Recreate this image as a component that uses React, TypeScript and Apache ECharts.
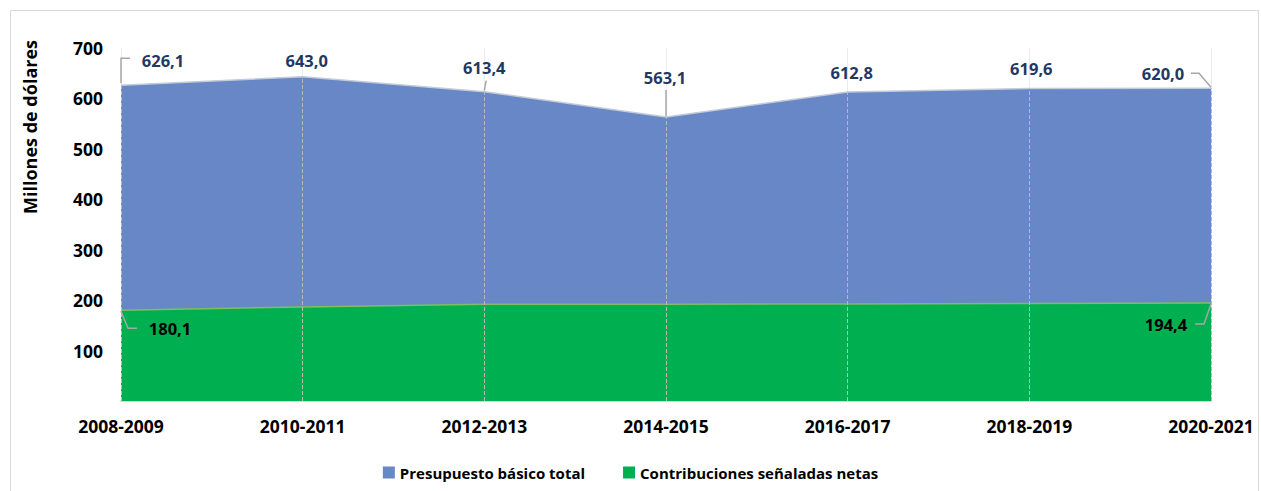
import React, { useEffect, useRef } from "react";
import * as echarts from "echarts";

const categories = ["2008-2009", "2010-2011", "2012-2013", "2014-2015", "2016-2017", "2018-2019", "2020-2021"];
const totalBudget = [626.1, 643.0, 613.4, 563.1, 612.8, 619.6, 620.0];
const contributions = [180.1, 186.5, 192.0, 192.0, 192.5, 193.5, 194.4];
const yTicks = { min: 0, max: 700, interval: 100 };

const seriesNames = ["Presupuesto básico total", "Contribuciones señaladas netas"];

const fmt = (v: number) => v.toFixed(1).replace(".", ",");

// label centre offsets (pixels) from each data point
const totalLabelOffset: [number, number][] = [
  [42, -25],
  [4, -16],
  [0, -24],
  [-1, -40],
  [4, -19],
  [2, -20],
  [-48, -15],
];
const contribLabelOffset: Record<number, [number, number]> = {
  0: [49, 18],
  6: [-45, 22],
};

// leader line shapes (pixel offsets from the data point), keyed by "series-index"
const leaderShapes: Record<string, number[][]> = {
  "t-0": [[0, -2], [0, -27], [9, -27]],
  "t-2": [[0, -1], [1, -7], [2, -11]],
  "t-3": [[0, -1], [0, -27]],
  "t-6": [[0, -1], [-12, -15], [-20, -15]],
  "c-0": [[0, 1], [7, 18], [16, 18]],
  "c-6": [[0, 1], [-7, 21], [-16, 21]],
};
const leaderPoints = [
  ["t", 0], ["t", 2], ["t", 3], ["t", 6], ["c", 0], ["c", 6],
] as const;

export default function App() {
  const ref = useRef<HTMLDivElement>(null);
  useEffect(() => {
    if (!ref.current) return;
    const chart = echarts.init(ref.current, undefined, { renderer: "svg" });
    const font = "'Open Sans', 'Noto Sans', sans-serif";
    const anchor = (p: any) => [p.rect.x + p.rect.width / 2, p.rect.y + p.rect.height / 2];
    const leaderData = leaderPoints.map(([s, i]) => [
      i,
      s === "t" ? totalBudget[i] : contributions[i],
      s === "t" ? 0 : 1,
    ]);
    chart.setOption({
      animation: false,
      textStyle: { fontFamily: font },
      grid: { left: 121, right: 50, top: 48, bottom: 90 },
      legend: {
        data: seriesNames,
        left: "center",
        top: 460,
        icon: "rect",
        itemWidth: 12,
        itemHeight: 12,
        itemGap: 38,
        textStyle: { fontFamily: font, fontWeight: "bold", fontSize: 15, color: "#000" },
      },
      graphic: [
        {
          type: "rect",
          shape: { x: 10.5, y: 10.5, width: 1248, height: 500 },
          style: { fill: "none", stroke: "#d9d9d9", lineWidth: 1 },
          silent: true,
        },
        {
          type: "text",
          x: 30,
          y: 127,
          rotation: Math.PI / 2,
          style: {
            text: "Millones de dólares",
            fontFamily: font,
            fontWeight: "bold",
            fontSize: 18,
            fill: "#000",
            align: "center",
            verticalAlign: "middle",
          },
        },
      ],
      xAxis: {
        type: "category",
        data: categories,
        boundaryGap: false,
        axisLine: { lineStyle: { color: "#cfdfc6", width: 2 } },
        axisTick: { show: false },
        axisLabel: { margin: 16, fontFamily: font, fontWeight: "bold", fontSize: 17.5, color: "#000" },
        splitLine: { show: true, lineStyle: { color: "#ececec", width: 1 } },
      },
      yAxis: {
        type: "value",
        min: yTicks.min,
        max: yTicks.max,
        interval: yTicks.interval,
        axisLine: { show: false },
        axisTick: { show: false },
        splitLine: { show: false },
        axisLabel: {
          margin: 18,
          fontFamily: font,
          fontWeight: "bold",
          fontSize: 17.5,
          color: "#000",
          formatter: (v: number) => (v === 0 ? "" : String(v)),
        },
      },
      series: [
        {
          name: seriesNames[0],
          type: "line",
          data: totalBudget,
          symbol: "circle",
          symbolSize: 0,
          showSymbol: true,
          itemStyle: { color: "#6787c6" },
          lineStyle: { color: "#c3cad8", width: 1.5 },
          areaStyle: { color: "#6787c6", opacity: 1 },
          label: {
            show: true,
            position: "top",
            formatter: (p: any) => fmt(p.value),
            fontFamily: font,
            fontWeight: "bold",
            fontSize: 16.5,
            color: "#1f3864",
          },
          labelLayout: (p: any) => {
            const [ax, ay] = anchor(p);
            const o = totalLabelOffset[p.dataIndex];
            return { x: ax + o[0], y: ay + o[1], align: "center", verticalAlign: "middle" };
          },
          z: 2,
        },
        {
          name: seriesNames[1],
          type: "line",
          data: contributions.map((v, i) => ({
            value: v,
            label: { show: i === 0 || i === contributions.length - 1 },
          })),
          symbol: "circle",
          symbolSize: 0,
          showSymbol: true,
          itemStyle: { color: "#00b050" },
          lineStyle: { color: "#7fbf5e", width: 1.5 },
          areaStyle: { color: "#00b050", opacity: 1 },
          label: {
            show: false,
            position: "top",
            formatter: (p: any) => fmt(p.value),
            fontFamily: font,
            fontWeight: "bold",
            fontSize: 16.5,
            color: "#000",
          },
          labelLayout: (p: any) => {
            const o = contribLabelOffset[p.dataIndex];
            if (!o) return {};
            const [ax, ay] = anchor(p);
            return { x: ax + o[0], y: ay + o[1], align: "center", verticalAlign: "middle" };
          },
          markLine: {
            silent: true,
            symbol: "none",
            label: { show: false },
            lineStyle: { color: "#b8b8b8", type: "dashed", width: 1 },
            data: categories.map((c, i) => [
              { coord: [c, 0] },
              { coord: [c, totalBudget[i]] },
            ]),
          },
          z: 3,
        },
        {
          type: "custom",
          name: "leaders",
          data: leaderData,
          silent: true,
          z: 4,
          renderItem: (params: any, api: any) => {
            const idx = api.value(0);
            const val = api.value(1);
            const kind = api.value(2) === 0 ? "t" : "c";
            const pt = api.coord([idx, val]);
            const shape = leaderShapes[`${kind}-${idx}`] || [];
            return {
              type: "polyline",
              shape: { points: shape.map(([dx, dy]) => [pt[0] + dx, pt[1] + dy]) },
              style: { stroke: "#a6a6a6", lineWidth: 1.5, fill: "none" },
            };
          },
        },
      ],
    });
    return () => chart.dispose();
  }, []);
  return (
    <div
      ref={ref}
      style={{ position: "absolute", left: 0, top: 0, width: 1261, height: 491 }}
    />
  );
}
